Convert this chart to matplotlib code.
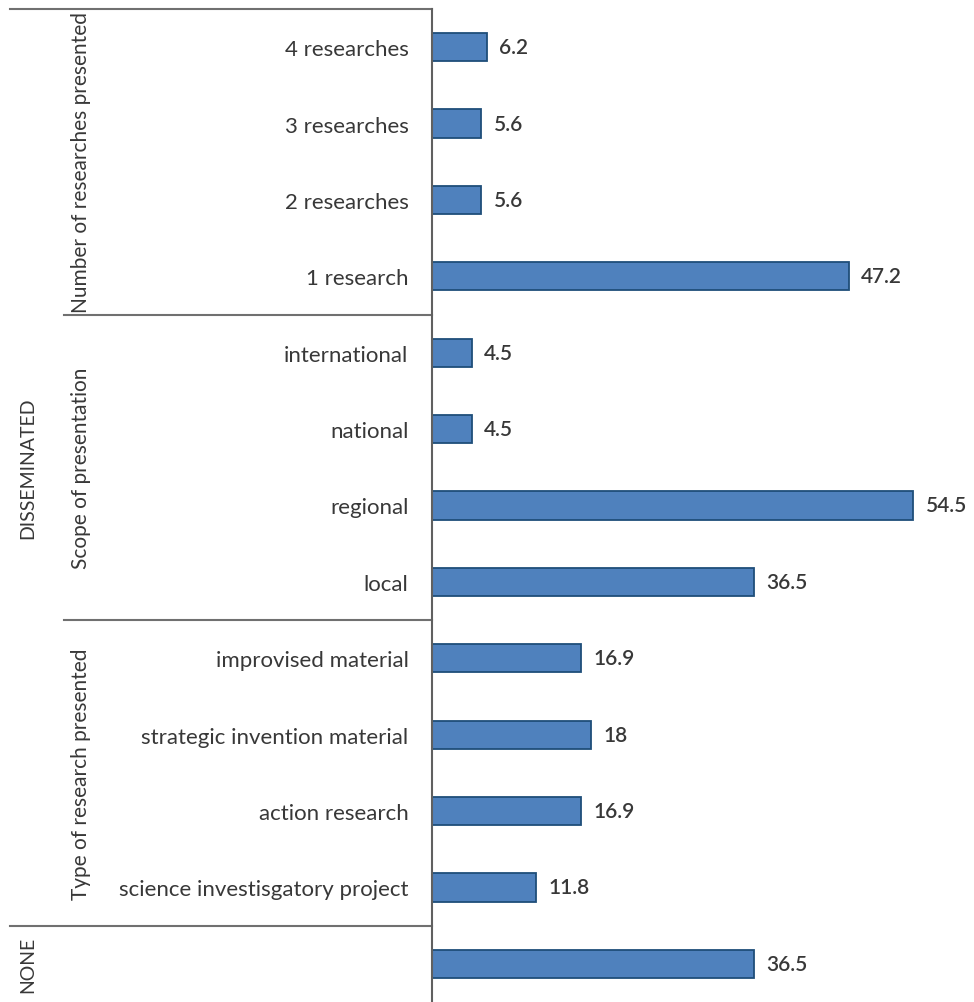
import matplotlib.pyplot as plt
from matplotlib.transforms import blended_transform_factory

# data, top to bottom
categories = ['4 researches', '3 researches', '2 researches', '1 research',
              'international', 'national', 'regional', 'local',
              'improvised material', 'strategic invention material',
              'action research', 'science investisgatory project',
              '']
values = [6.2, 5.6, 5.6, 47.2,
          4.5, 4.5, 54.5, 36.5,
          16.9, 18, 16.9, 11.8,
          36.5]
subgroups = ['Number of researches presented', 'Scope of presentation',
             'Type of research presented']
subgroup_sizes = [4, 4, 4]
groups = ['DISSEMINATED', 'NONE']
group_sizes = [12, 1]

plt.rcParams['font.family'] = ['Lato', 'DejaVu Sans']
text_color = '#383838'
line_color = '#707070'

fig = plt.figure(figsize=(9.74, 10.03), dpi=100)
left = 432 / 974
ax = fig.add_axes([left, 0, 1 - left, 1 - 10 / 1003])

y = list(range(len(values)))
ax.barh(y, values, height=0.37, color='#4F81BD', edgecolor='#1F4E79', linewidth=1.3)
ax.set_ylim(len(values) - 0.5, -0.5)
ax.set_xlim(0, 61.4)
ax.set_yticks(y)
ax.set_yticklabels(categories, fontsize=16, color=text_color)
ax.tick_params(axis='y', length=0, pad=17)
ax.set_xticks([])
for s in ['top', 'right', 'bottom']:
    ax.spines[s].set_visible(False)
ax.spines['left'].set_color('#606060')
ax.spines['left'].set_linewidth(1.5)

for yi, v in zip(y, values):
    ax.annotate(f'{v:g}', (v, yi), xytext=(9, 0), textcoords='offset points',
                va='center', ha='left', fontsize=15, fontweight='semibold',
                color=text_color)

# group separators and labels in figure-x / data-y coordinates
tr = blended_transform_factory(fig.transFigure, ax.transData)
x_outer = 10 / 974
x_inner = 64 / 974
ax.plot([x_outer, left], [-0.5, -0.5], transform=tr, color=line_color,
        lw=1.5, clip_on=False)

start = 0
for name, n in zip(subgroups, subgroup_sizes):
    ax.text(81 / 974, start + n / 2 - 0.5, name, transform=tr, rotation=90,
            ha='center', va='center', fontsize=15, color=text_color)
    start += n
    x0 = x_outer if start == group_sizes[0] else x_inner
    ax.plot([x0, left], [start - 0.5, start - 0.5], transform=tr,
            color=line_color, lw=1.5, clip_on=False)

start = 0
for name, n in zip(groups, group_sizes):
    ax.text(28 / 974, start + n / 2 - 0.5, name, transform=tr, rotation=90,
            ha='center', va='center', fontsize=14, color=text_color)
    start += n

fig.savefig('out.png', dpi=100)
